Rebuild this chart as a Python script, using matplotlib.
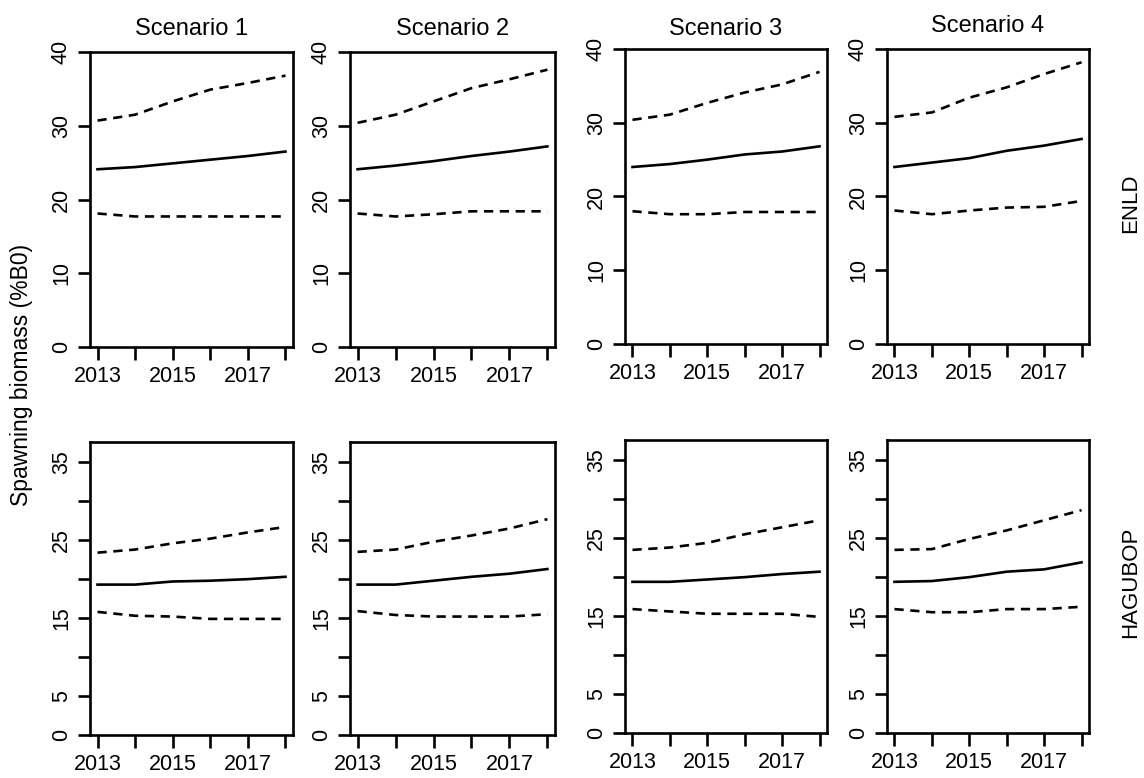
import numpy as np
import matplotlib
matplotlib.use("Agg")
from matplotlib import pyplot as plt

years = [2013, 2014, 2015, 2016, 2017, 2018]
scenarios = ["Scenario 1", "Scenario 2", "Scenario 3", "Scenario 4"]
stocks = ["ENLD", "HAGUBOP"]

# ENLD: median, lower and upper bounds per scenario
enld_med = [[24.1, 24.4, 24.9, 25.4, 25.9, 26.5],
            [24.1, 24.6, 25.2, 25.9, 26.5, 27.2],
            [24.0, 24.4, 25.0, 25.7, 26.1, 26.8],
            [24.0, 24.6, 25.2, 26.2, 26.9, 27.8]]
enld_lo = [[18.1, 17.7, 17.7, 17.7, 17.7, 17.7],
           [18.1, 17.7, 18.0, 18.4, 18.4, 18.4],
           [18.0, 17.6, 17.6, 17.9, 17.9, 17.9],
           [18.1, 17.6, 18.1, 18.5, 18.6, 19.4]]
enld_hi = [[30.7, 31.5, 33.3, 34.9, 35.8, 36.8],
           [30.4, 31.5, 33.3, 35.1, 36.3, 37.6],
           [30.4, 31.1, 32.7, 34.1, 35.2, 36.9],
           [30.8, 31.4, 33.4, 34.8, 36.6, 38.2]]

# HAGUBOP
hag_med = [[19.3, 19.3, 19.7, 19.8, 20.0, 20.3],
           [19.3, 19.3, 19.8, 20.3, 20.7, 21.3],
           [19.4, 19.4, 19.7, 20.0, 20.4, 20.7],
           [19.4, 19.5, 20.0, 20.7, 21.0, 21.9]]
hag_lo = [[15.8, 15.3, 15.2, 14.9, 14.9, 14.9],
          [15.9, 15.4, 15.2, 15.2, 15.2, 15.5],
          [15.9, 15.6, 15.3, 15.3, 15.3, 14.9],
          [15.9, 15.5, 15.5, 15.9, 15.9, 16.2]]
hag_hi = [[23.4, 23.8, 24.6, 25.2, 26.0, 26.7],
          [23.5, 23.8, 24.8, 25.6, 26.5, 27.7],
          [23.5, 23.8, 24.4, 25.5, 26.4, 27.3],
          [23.5, 23.6, 24.9, 26.0, 27.3, 28.6]]

plt.rcParams['font.family'] = ['Liberation Sans', 'DejaVu Sans']

W, H = 1144, 778
fig = plt.figure(figsize=(W / 100, H / 100), dpi=100)

# panel boxes in pixels: (left, right, top, bottom)
xs = [(90, 293), (350, 555), (625, 827), (887, 1089)]
ys_top = [(52, 347), (52, 347), (49, 344), (49, 344)]
ys_bot = [(442, 735), (442, 735), (440, 733), (440, 733)]
title_y = [35, 35, 35, 32]

rows = [(enld_med, enld_lo, enld_hi, ys_top, (0, 40), [0, 10, 20, 30, 40],
         ['0', '10', '20', '30', '40']),
        (hag_med, hag_lo, hag_hi, ys_bot, (0, 37.6), [0, 5, 10, 15, 20, 25, 30, 35],
         ['0', '5', '', '15', '', '25', '', '35'])]

lw = 1.9
for r, (med, lo, hi, ybox, ylim, yt, ytl) in enumerate(rows):
    for c in range(4):
        x0, x1 = xs[c]
        y0, y1 = ybox[c]
        ax = fig.add_axes([x0 / W, 1 - y1 / H, (x1 - x0) / W, (y1 - y0) / H])
        ax.plot(years, med[c], color='black', lw=lw)
        ax.plot(years, lo[c], color='black', lw=lw, dashes=(3.5, 2.5))
        ax.plot(years, hi[c], color='black', lw=lw, dashes=(3.5, 2.5))
        ax.set_xlim(2012.8, 2018.2)
        ax.set_ylim(*ylim)
        ax.set_xticks(years)
        ax.set_xticklabels(['2013', '', '2015', '', '2017', ''])
        ax.set_yticks(yt)
        ax.set_yticklabels(ytl, rotation=90, va='center')
        ax.tick_params(length=9, width=lw, labelsize=15.5)
        ax.tick_params(axis='x', pad=5)
        ax.tick_params(axis='y', pad=4)
        for s in ax.spines.values():
            s.set_linewidth(lw)
        if r == 0:
            fig.text((x0 + x1) / 2 / W, 1 - title_y[c] / H, scenarios[c],
                     ha='center', va='baseline', fontsize=17)

fig.text(1131 / W, 1 - 203 / H, stocks[0], rotation=90, ha='center', va='center', fontsize=16)
fig.text(1131 / W, 1 - 582 / H, stocks[1], rotation=90, ha='center', va='center', fontsize=16)
fig.text(22 / W, 1 - 375 / H, 'Spawning biomass (%B0)', rotation=90, ha='center', va='center', fontsize=16.5)

fig.savefig('out.png', dpi=100)
